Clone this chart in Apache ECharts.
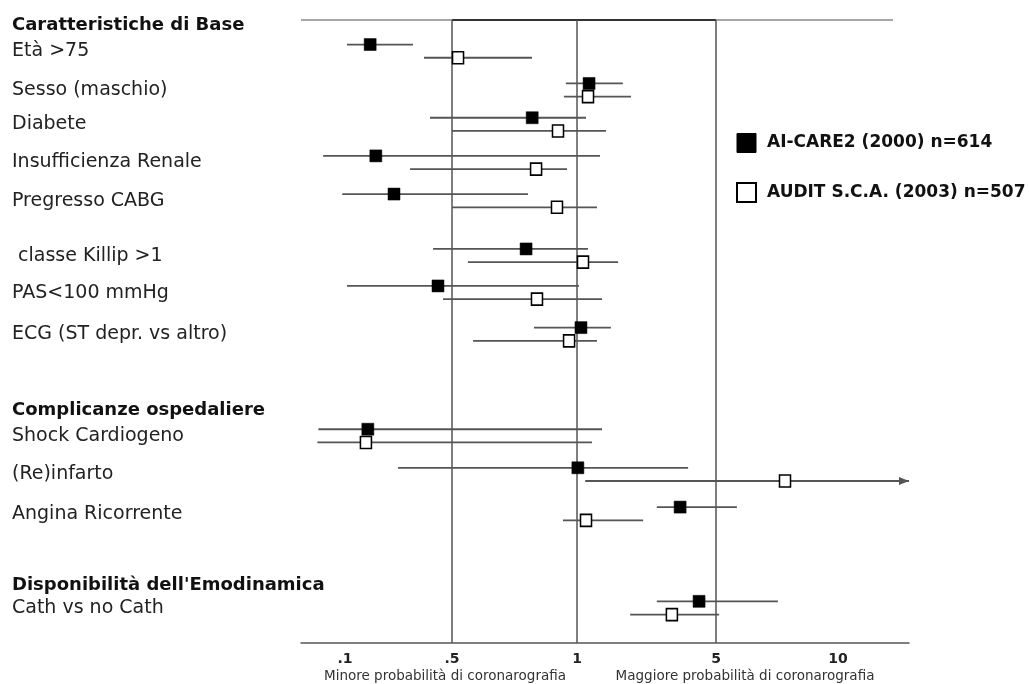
<!DOCTYPE html>
<html>
<head>
<meta charset="utf-8">
<script src="https://cdn.jsdelivr.net/npm/echarts@6/dist/echarts.min.js"></script>
<style>html,body{margin:0;padding:0;background:#fff}#c{width:1029px;height:684px}</style>
</head>
<body>
<div id="c"></div>
<script>
// ---------- data ----------
const rowLabels = ['Età >75', 'Sesso (maschio)', 'Diabete', 'Insufficienza Renale', 'Pregresso CABG',
  ' classe Killip >1', 'PAS<100 mmHg', 'ECG (ST depr. vs altro)',
  'Shock Cardiogeno', '(Re)infarto', 'Angina Ricorrente', 'Cath vs no Cath'];
const rowPos = [0.8, 1.8, 2.68, 3.66, 4.64, 6.05, 7.0, 8.07, 10.68, 11.67, 12.68, 15.1];
const groupLabels = ['Caratteristiche di Base', 'Complicanze ospedaliere', "Disponibilità dell'Emodinamica"];
const groupPos = [0.13, 10.03, 14.53];

const seriesNames = ['AI-CARE2 (2000) n=614', 'AUDIT S.C.A. (2003) n=507'];
const careOR   = [0.146, 1.15, 0.78, 0.159, 0.209, 0.754, 0.405, 1.047, 0.141, 1.01, 3.30, 4.11];
const careLow  = [0.103, 0.94, 0.359, 0.072, 0.096, 0.376, 0.103, 0.788, 0.067, 0.222, 2.52, 2.52];
const careHigh = [0.278, 1.70, 1.11, 1.305, 0.762, 1.136, 1.023, 1.48, 1.336, 3.62, 5.63, 7.11];
const auditOR   = [0.517, 1.136, 0.90, 0.797, 0.895, 1.072, 0.801, 0.957, 0.137, 7.40, 1.11, 3.00];
const auditLow  = [0.328, 0.93, 0.50, 0.266, 0.50, 0.546, 0.437, 0.562, 0.066, 1.10, 0.925, 1.85];
const auditHigh = [0.779, 1.87, 1.40, 0.946, 1.26, 1.61, 1.336, 1.26, 1.19, Infinity, 2.15, 5.09];

const tickValues = [0.1, 0.5, 1, 5, 10];
const tickLabels = ['.1', '.5', '1', '5', '10'];
const refLines = [0.5, 1, 5];
const xNames = ['Minore probabilità di coronarografia', 'Maggiore probabilità di coronarografia'];

// ---------- scale (piecewise log axis as in the original) ----------
const tickUnits = [0, 107, 232, 371, 493];
const X_MIN = -44, X_MAX = 564, FRAME_RIGHT = 548;
function toAxis(v) {
  if (!isFinite(v)) return X_MAX + 100;
  let i = 0;
  while (i < tickValues.length - 2 && v > tickValues[i + 1]) i++;
  const a = Math.log(tickValues[i]), b = Math.log(tickValues[i + 1]);
  return tickUnits[i] + (Math.log(v) - a) / (b - a) * (tickUnits[i + 1] - tickUnits[i]);
}
const OFF = 0.17;
const FONT = '"DejaVu Sans", sans-serif';
const LINE = '#555';

function ciData(lo, hi, dy) {
  return lo.map((l, i) => [toAxis(l), toAxis(hi[i]), rowPos[i] + dy]);
}
function ptData(or, dy) {
  return or.map((v, i) => [toAxis(v), rowPos[i] + dy]);
}
function ciRender(params, api) {
  const lo = api.value(0), hi = api.value(1), y = api.value(2);
  const hiC = Math.min(hi, X_MAX);
  const p1 = api.coord([lo, y]), p2 = api.coord([hiC, y]);
  const ch = [{type: 'line', shape: {x1: p1[0], y1: p1[1], x2: p2[0], y2: p2[1]},
    style: {stroke: LINE, lineWidth: 1.8}}];
  if (hi > X_MAX) {
    ch.push({type: 'polygon', shape: {points: [[p2[0], p2[1]], [p2[0] - 10, p2[1] - 4], [p2[0] - 10, p2[1] + 4]]},
      style: {fill: LINE}});
  }
  return {type: 'group', children: ch};
}
// frame segments along the top edge: [from, to, y, style index]
const frameStyles = [{stroke: '#888', lineWidth: 1.5}, {stroke: '#333', lineWidth: 2.2}];
function frameRender(params, api) {
  const p1 = api.coord([api.value(0), api.value(2)]), p2 = api.coord([api.value(1), api.value(2)]);
  return {type: 'line', shape: {x1: p1[0], y1: p1[1], x2: p2[0], y2: p2[1]}, style: frameStyles[api.value(3)]};
}

const chart = echarts.init(document.getElementById('c'), null, {renderer: 'canvas'});
chart.setOption({
  animation: false,
  backgroundColor: '#fff',
  grid: {left: 301, right: 120, top: 20, bottom: 41, containLabel: false},
  title: [
    {text: xNames[0], left: 445, top: 669, textAlign: 'center', padding: 0,
      textStyle: {fontFamily: FONT, fontSize: 13.5, fontWeight: 'normal', color: '#333'}},
    {text: xNames[1], left: 745, top: 669, textAlign: 'center', padding: 0,
      textStyle: {fontFamily: FONT, fontSize: 13.5, fontWeight: 'normal', color: '#333'}}
  ],
  legend: {
    orient: 'vertical', left: 731, top: 128, itemWidth: 19, itemHeight: 19, itemGap: 29,
    icon: 'rect', selectedMode: false,
    textStyle: {fontFamily: FONT, fontSize: 17, fontWeight: 'bold', color: '#111', padding: [0, 0, 0, 6]},
    data: [
      {name: seriesNames[0], itemStyle: {color: '#000', borderColor: '#000', borderWidth: 1}},
      {name: seriesNames[1], itemStyle: {color: '#fff', borderColor: '#000', borderWidth: 2}}
    ]
  },
  xAxis: {
    type: 'value', min: X_MIN, max: X_MAX,
    axisLine: {show: true, onZero: false, lineStyle: {color: LINE, width: 1.5}},
    axisTick: {show: false},
    splitLine: {show: false},
    axisLabel: {
      customValues: tickValues.map(toAxis),
      margin: 9,
      fontFamily: FONT, fontSize: 14, fontWeight: 'bold', color: '#222',
      formatter: function (val) {
        let best = 0;
        tickValues.forEach((t, i) => { if (Math.abs(toAxis(t) - val) < Math.abs(toAxis(tickValues[best]) - val)) best = i; });
        return tickLabels[best];
      }
    }
  },
  yAxis: {
    type: 'value', min: 0, max: 16, inverse: true,
    axisLine: {show: false, onZero: false}, axisTick: {show: false}, splitLine: {show: false},
    axisLabel: {
      customValues: rowPos.concat(groupPos),
      align: 'left', margin: 289,
      fontFamily: FONT, fontSize: 19, color: '#222',
      formatter: function (val) {
        const gi = groupPos.findIndex(p => Math.abs(p - val) < 1e-6);
        if (gi >= 0) return '{h|' + groupLabels[gi] + '}';
        const ri = rowPos.findIndex(p => Math.abs(p - val) < 1e-6);
        return '{r|' + (ri >= 0 ? rowLabels[ri] : '') + '}';
      },
      rich: {
        h: {fontFamily: FONT, fontSize: 18, fontWeight: 'bold', color: '#111'},
        r: {fontFamily: FONT, fontSize: 19, color: '#222'}
      }
    }
  },
  series: [
    {
      type: 'line', data: [], silent: true, z: 1,
      markLine: {
        silent: true, symbol: ['none', 'none'], label: {show: false}, animation: false,
        emphasis: {disabled: true},
        lineStyle: {color: LINE, width: 1.5, type: 'solid'},
        data: refLines.map(v => ({xAxis: toAxis(v)}))
      }
    },
    {type: 'custom', name: 'frame', renderItem: frameRender,
      data: [[X_MIN, FRAME_RIGHT, 0, 0], [toAxis(0.5), toAxis(5), 0, 1]],
      encode: {x: [0, 1], y: 2}, z: 2, silent: true, clip: false},
    {type: 'custom', name: 'ci1', renderItem: ciRender, data: ciData(careLow, careHigh, -OFF),
      encode: {x: [0, 1], y: 2}, z: 2, silent: true, clip: false},
    {type: 'custom', name: 'ci2', renderItem: ciRender, data: ciData(auditLow, auditHigh, OFF),
      encode: {x: [0, 1], y: 2}, z: 2, silent: true, clip: false},
    {type: 'scatter', name: seriesNames[0], data: ptData(careOR, -OFF), symbol: 'rect', symbolSize: 12,
      itemStyle: {color: '#000', borderColor: '#000', borderWidth: 0.5, opacity: 1}, z: 5, silent: true},
    {type: 'scatter', name: seriesNames[1], data: ptData(auditOR, OFF), symbol: 'rect', symbolSize: [11, 12],
      itemStyle: {color: '#fff', borderColor: '#000', borderWidth: 1.6, opacity: 1}, z: 5, silent: true}
  ]
});
</script>
</body>
</html>
